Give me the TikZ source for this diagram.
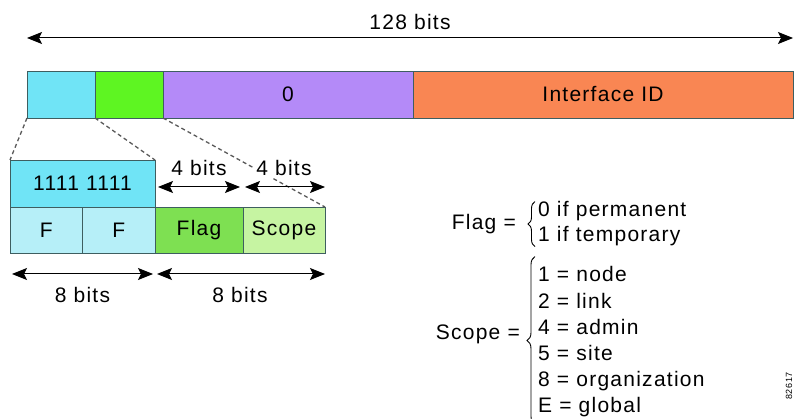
\documentclass[tikz,border=0pt]{standalone}
\usepackage{fontspec}
\setmainfont{Liberation Sans}[LetterSpace=6]
\usetikzlibrary{positioning,arrows.meta,decorations.pathreplacing}

\definecolor{pfxcyan}{HTML}{70E4F6}
\definecolor{flgreen}{HTML}{5EF522}
\definecolor{zeropurple}{HTML}{B48AF8}
\definecolor{iidorange}{HTML}{F98653}
\definecolor{ffcyan}{HTML}{B6EFF8}
\definecolor{flaggreen}{HTML}{7EE052}
\definecolor{scopegreen}{HTML}{C6F4A2}
\definecolor{edgegray}{HTML}{3E5E60}

\begin{document}
\begin{tikzpicture}[x=1pt,y=-1pt,
  field/.style={draw=edgegray, line width=0.9pt, inner sep=0pt, outer sep=0pt, font=\fontsize{21}{25}\selectfont},
  span/.style={{Stealth[length=15pt,width=12pt,inset=3pt]}-{Stealth[length=15pt,width=12pt,inset=3pt]}, line width=1pt},
  zoomline/.style={dash pattern=on 4pt off 3pt, black!65, line width=1.3pt},
  txt/.style={font=\fontsize{21}{25}\selectfont, inner sep=0pt}]

\useasboundingbox (0,0) rectangle (794,419);

% the 128 bit address
\node[field, fill=pfxcyan, minimum width=68pt, minimum height=47pt, anchor=north west] (pfx) at (27,71) {};
\node[field, fill=flgreen, minimum width=68pt, minimum height=47pt, right=0pt of pfx] (fs) {};
\node[field, fill=zeropurple, minimum width=250pt, minimum height=47pt, right=0pt of fs] (zero) {0};
\node[field, fill=iidorange, minimum width=380pt, minimum height=47pt, right=0pt of zero] (iid) {Interface ID};

\draw[span] ([yshift=33pt]pfx.north west) -- ([yshift=33pt]iid.north east)
  node[txt, midway, above=8pt] (allbits) {128 bits};

% expanded first 16 bits
\node[field, fill=pfxcyan, minimum width=145pt, minimum height=47pt, anchor=north west] (ones) at (10,160) {1111 1111};
\node[field, fill=ffcyan, minimum width=72.5pt, minimum height=46pt, anchor=north west] (f1) at (ones.south west) {F};
\node[field, fill=ffcyan, minimum width=72.5pt, minimum height=46pt, right=0pt of f1] (f2) {F};
\node[field, fill=flaggreen, minimum width=88pt, minimum height=46pt, right=0pt of f2] (flag) {Flag};
\node[field, fill=scopegreen, minimum width=82pt, minimum height=46pt, right=0pt of flag] (scope) {Scope};

\draw[zoomline] (pfx.south west) -- (ones.north west);
\draw[zoomline] (pfx.south east) -- (ones.north east);
\draw[zoomline] (fs.south east) -- (scope.north east);

\draw[span, shorten <=3pt, shorten >=3pt] ([yshift=20pt]flag.north west) -- ([yshift=20pt]flag.north east)
  node[txt, midway, above=8pt, fill=white, inner sep=3pt] (flagbits) {4 bits};
\draw[span, shorten <=2pt] ([yshift=20pt]scope.north west) -- ([yshift=20pt]scope.north east)
  node[txt, midway, above=8pt, fill=white, inner sep=3pt] (scopebits) {4 bits};

\draw[span, shorten <=2pt, shorten >=2pt] ([yshift=-21pt]f1.south west) -- ([yshift=-21pt]f2.south east)
  node[txt, midway, below=13pt] (ffbits) {8 bits};
\draw[span, shorten <=2pt] ([yshift=-21pt]flag.south west) -- ([yshift=-21pt]scope.south east)
  node[txt, midway, below=13pt] (fsbits) {8 bits};

% flag values
\node[txt, anchor=base east] (flagdef) at (516,230) {Flag =};
\node[txt, anchor=base west] (fl0) at (538,217) {0 if permanent};
\node[txt, anchor=base west] (fl1) at (538,242) {1 if temporary};
\draw[decorate, decoration={brace, amplitude=7pt}, line width=0.9pt]
  ([xshift=-3pt]fl1.south west) -- ([xshift=-3pt]fl0.north west);

% scope values
\node[txt, anchor=base east] (scopedef) at (520,339) {Scope =};
\foreach \v/\name [count=\i] in {1/node,2/link,4/admin,5/site,8/organization,E/global}
  \node[txt, anchor=base west] (sc\i) at (538,{282+26*(\i-1)}) {\v\ = \name};
\draw[decorate, decoration={brace, amplitude=8pt}, line width=0.9pt]
  ([xshift=-3pt,yshift=-8pt]sc6.south west) -- ([xshift=-3pt,yshift=10pt]sc1.north west);

\node[rotate=90, font=\fontsize{9}{10}\selectfont, inner sep=0pt] (fignum) at (789,386) {82617};

\end{tikzpicture}
\end{document}
